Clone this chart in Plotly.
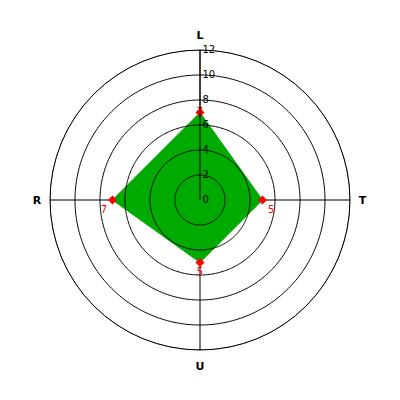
import numpy as np
import plotly.graph_objects as go

categories = ["L", "T", "U", "R"]
values = [7, 5, 5, 7]
label_text = ["7", "5", "5", "7"]
radial_ticks = [0, 2, 4, 6, 8, 10, 12]
grid_levels = [2, 4, 6, 8, 10, 12]

# angle of each category (clockwise from top)
cat_angles = [i * 360.0 / len(categories) for i in range(len(categories))]

fig = go.Figure()
fig.add_trace(go.Scatterpolar(
    r=values + [values[0]],
    theta=cat_angles + [cat_angles[0]],
    mode="lines",
    fill="toself",
    fillcolor="rgb(0,170,0)",
    line=dict(color="rgb(0,170,0)", width=1),
    hoverinfo="skip",
    showlegend=False,
))

# grid circles drawn above the filled area, as in the reference
ang = np.linspace(0, 360, 361)
for lvl in grid_levels:
    fig.add_trace(go.Scatterpolar(
        r=[lvl] * len(ang),
        theta=ang,
        mode="lines",
        line=dict(color="black", width=1),
        hoverinfo="skip",
        showlegend=False,
    ))

fig.add_trace(go.Scatterpolar(
    r=values,
    theta=cat_angles,
    mode="markers+text",
    marker=dict(color="red", size=7, symbol="diamond"),
    text=label_text,
    textposition=["middle center", "bottom right", "bottom center", "bottom left"],
    textfont=dict(color="red", size=10, family="DejaVu Sans"),
    showlegend=False,
))

fig.update_layout(
    width=400, height=400,
    margin=dict(l=42, r=58, t=42, b=58, autoexpand=False),
    paper_bgcolor="white",
    plot_bgcolor="white",
    polar=dict(
        bgcolor="white",
        domain=dict(x=[0, 1], y=[0, 1]),
        angularaxis=dict(
            rotation=90,
            direction="clockwise",
            tickmode="array",
            tickvals=cat_angles,
            ticktext=categories,
            showline=True,
            linecolor="black",
            linewidth=1,
            gridcolor="black",
            gridwidth=1,
            ticks="outside",
            ticklen=6,
            tickcolor="rgba(0,0,0,0)",
            tickfont=dict(family="DejaVu Sans", size=11, color="black", weight="bold"),
        ),
        radialaxis=dict(
            range=[0, 12],
            tickvals=radial_ticks,
            ticktext=[str(v) for v in radial_ticks],
            angle=90,
            tickangle=90,
            side="clockwise",
            showline=True,
            linecolor="black",
            linewidth=1,
            showgrid=False,
            ticks="",
            layer="above traces",
            tickfont=dict(family="DejaVu Sans", size=10, color="black"),
        ),
    ),
)

fig.write_html("out.html")
